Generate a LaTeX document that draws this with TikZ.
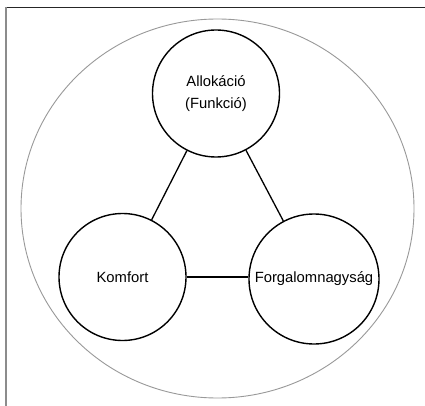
\documentclass[tikz,border=0pt]{standalone}
\usepackage{fontspec}
\setmainfont{Liberation Sans}
\usetikzlibrary{shapes.geometric}
\begin{document}
\begin{tikzpicture}[x=1pt,y=-1pt,
  topic/.style={circle,draw=black,line width=1.4pt,minimum size=127pt,inner sep=0pt,align=center,
    font=\fontsize{14.8}{22}\selectfont},
  link/.style={draw=black,line width=1.3pt},
  outer/.style={ellipse,draw=gray!80,line width=0.9pt,minimum width=393pt,minimum height=379pt,inner sep=0pt}]
\useasboundingbox (0,0) rectangle (425,406);
\fill[white] (0,0) rectangle (425,406);
\draw[black!85,line width=1.2pt] (5,7.5) -- (425,7.5);
\draw[gray!90,line width=2pt] (5.5,7) -- (5.5,406);
\node[outer] (big) at (217.5,208.5) {};
\node[topic] (alloc) at (216,93.5) {Allokáció\\(Funkció)};
\node[topic] (komf) at (122.5,277) {Komfort};
\node[topic,minimum size=130pt] (forg) at (314,279) {Forgalomnagyság};
\draw[link] (alloc) -- (komf);
\draw[link] (alloc) -- (forg);
\draw[link] (komf.east) -- (forg.west |- komf.east);
\end{tikzpicture}
\end{document}
